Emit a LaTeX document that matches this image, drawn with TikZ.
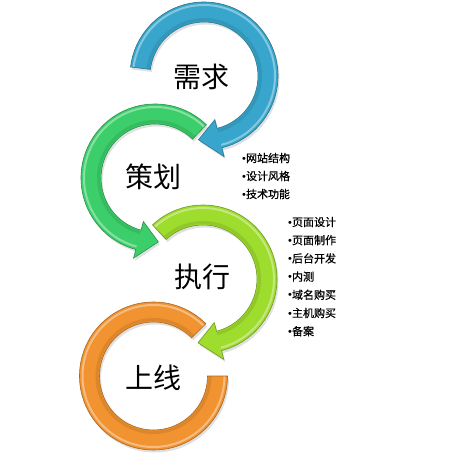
\documentclass[tikz,border=0pt]{standalone}
\usepackage{fontspec}
\setmainfont{Noto Sans CJK SC}
\newfontfamily\listfont[FakeBold=0.7]{Noto Sans CJK SC}
\newfontfamily\dotfont{Liberation Sans}
\usetikzlibrary{calc}
\definecolor{ringblue}{RGB}{56,166,204}
\definecolor{ringgreen}{RGB}{60,206,106}
\definecolor{ringlime}{RGB}{158,220,46}
\definecolor{ringorange}{RGB}{241,147,48}
\tikzset{
	stage/.style={inner sep=0pt, font=\fontsize{28}{28}\selectfont},
	item/.style={anchor=west, inner sep=0pt, font=\fontsize{11}{11}\selectfont\listfont}
}
% band with head: center, start angle, base angle, tip angle
\newcommand{\arrowpath}[4]{($(#1)+(#2:\ringout)$) arc[start angle=#2, end angle=#3, radius=\ringout]
	-- ($(#1)+(#3:\ringmid+\headw)$) -- ($(#1)+(#4:\ringmid)$) -- ($(#1)+(#3:\ringmid-\headw)$)
	-- ($(#1)+(#3:\ringin)$) arc[start angle=#3, end angle=#2, radius=\ringin] -- cycle}
\newcommand{\ringarrow}[5]{
	\begin{scope}[transform canvas={shift={(1.5pt,-2.5pt)}}]
		\fill[black, opacity=.12] \arrowpath{#1}{#2}{#3}{#4};
	\end{scope}
	\fill[#5] \arrowpath{#1}{#2}{#3}{#4};
	\draw[#5!45!white, line width=2pt, opacity=.7] ($(#1)+(#2:\ringout-3)$) arc[start angle=#2, end angle=#3, radius=\ringout-3];
	\draw[#5!75!black, line width=3pt, opacity=.35] ($(#1)+(#2:\ringin+2.5)$) arc[start angle=#2, end angle=#3, radius=\ringin+2.5];
	\draw[#5!70!black, line width=0.6pt] \arrowpath{#1}{#2}{#3}{#4};
}
\newcommand{\bul}{{\dotfont\textbullet}}
\begin{document}
\begin{tikzpicture}[x=1pt, y=1pt]
	\def\ringout{74}
	\def\ringin{54}
	\def\ringmid{64}
	\def\headw{19}
	\useasboundingbox[fill=white] (0,0) rectangle (456,-455);
	\coordinate (C1) at (204,-76);
	\coordinate (C2) at (155,-178);
	\coordinate (C3) at (203,-279);
	\coordinate (C4) at (153.5,-376);
	% arrows
	\ringarrow{C1}{173}{-76}{-95}{ringblue}
	\ringarrow{C2}{46}{255}{273}{ringgreen}
	\ringarrow{C3}{133}{-75.5}{-94.5}{ringlime}
	% last ring, no head
	\begin{scope}[transform canvas={shift={(1.5pt,-2.5pt)}}]
		\fill[black, opacity=.12] ($(C4)+(45:\ringout)$) arc[start angle=45, end angle=360, radius=\ringout] -- ($(C4)+(0:\ringin)$) arc[start angle=360, end angle=45, radius=\ringin] -- cycle;
	\end{scope}
	\fill[ringorange] ($(C4)+(45:\ringout)$) arc[start angle=45, end angle=360, radius=\ringout] -- ($(C4)+(0:\ringin)$) arc[start angle=360, end angle=45, radius=\ringin] -- cycle;
	\draw[ringorange!45!white, line width=2pt, opacity=.7] ($(C4)+(45:\ringout-3)$) arc[start angle=45, end angle=360, radius=\ringout-3];
	\draw[ringorange!75!black, line width=3pt, opacity=.35] ($(C4)+(45:\ringin+2.5)$) arc[start angle=45, end angle=360, radius=\ringin+2.5];
	\draw[ringorange!70!black, line width=0.6pt] ($(C4)+(45:\ringout)$) arc[start angle=45, end angle=360, radius=\ringout] -- ($(C4)+(0:\ringin)$) arc[start angle=360, end angle=45, radius=\ringin] -- cycle;
	% stages
	\node[stage] (need) at (201,-77) {需求};
	\node[stage] (plan) at (153,-177) {策划};
	\node[stage] (exec) at (202,-277) {执行};
	\node[stage] (live) at (153,-378) {上线};
	% lists
	\foreach \t [count=\i] in {网站结构,设计风格,技术功能}
		\node[item] (p\i) at (242,-158-18*\i+18) {\bul\t};
	\foreach \t [count=\i] in {页面设计,页面制作,后台开发,内测,域名购买,主机购买,备案}
		\node[item] (e\i) at (288,-222-18.2*\i+18.2) {\bul\t};
\end{tikzpicture}
\end{document}
